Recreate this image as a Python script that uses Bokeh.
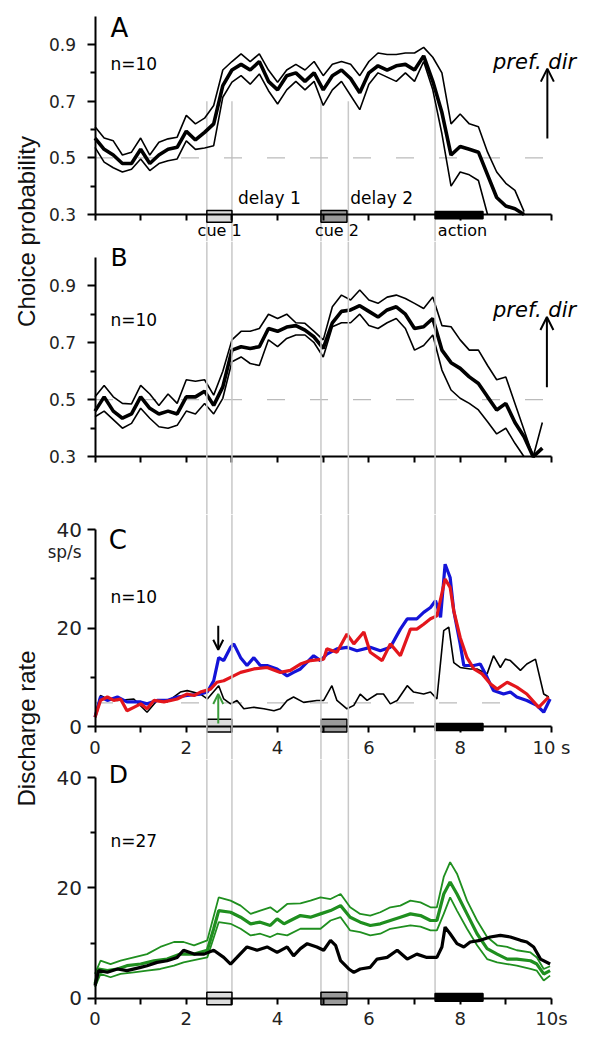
import numpy as np
from bokeh.plotting import figure
from bokeh.layouts import column, row
from bokeh.models import Range1d, LinearAxis, FixedTicker, Span, Arrow, OpenHead
from bokeh.core.properties import value
from bokeh.embed import file_html
from bokeh.resources import INLINE

nan = float("nan")
FONT = "DejaVu Sans"
LABEL_FONT = "Liberation Sans"

# ---------------- data ----------------
# panels A, B : choice probability, 0.2 s bins
t_ab = [round(0.2 * i, 1) for i in range(50)]
a_mean = [0.57, 0.53, 0.51, 0.48, 0.48, 0.53, 0.48, 0.51, 0.53, 0.537,
          0.594, 0.563, 0.59, 0.62, 0.755, 0.81, 0.83, 0.81, 0.84, 0.77,
          0.74, 0.79, 0.80, 0.77, 0.80, 0.74, 0.79, 0.81, 0.78, 0.73,
          0.80, 0.825, 0.81, 0.825, 0.83, 0.81, 0.86, 0.77, 0.66, 0.51,
          0.54, 0.53, 0.52, 0.44, 0.36, 0.33, 0.32, 0.30, nan, nan]
a_upper = [0.61, 0.57, 0.56, 0.51, 0.52, 0.57, 0.51, 0.555, 0.567, 0.573,
           0.65, 0.62, 0.64, 0.685, 0.81, 0.84, 0.867, 0.84, 0.867, 0.81,
           0.767, 0.81, 0.83, 0.81, 0.84, 0.79, 0.83, 0.84, 0.83, 0.79,
           0.84, 0.87, 0.865, 0.865, 0.87, 0.87, 0.89, 0.855, 0.80, 0.62,
           0.655, 0.62, 0.61, 0.52, 0.45, 0.41, 0.385, 0.31, nan, nan]
a_lower = [0.537, 0.485, 0.465, 0.45, 0.46, 0.496, 0.455, 0.48, 0.49, 0.496,
           0.56, 0.53, 0.535, 0.543, 0.714, 0.767, 0.79, 0.76, 0.796, 0.737,
           0.69, 0.74, 0.77, 0.74, 0.77, 0.685, 0.74, 0.77, 0.72, 0.67,
           0.76, 0.80, 0.785, 0.77, 0.80, 0.77, 0.84, 0.74, 0.585, 0.40,
           0.45, 0.44, 0.42, 0.30, nan, nan, nan, nan, nan, nan]

b_mean = [0.46, 0.51, 0.46, 0.435, 0.45, 0.51, 0.47, 0.45, 0.46, 0.45,
          0.51, 0.51, 0.53, 0.48, 0.545, 0.674, 0.686, 0.68, 0.686, 0.75,
          0.74, 0.755, 0.76, 0.744, 0.72, 0.68, 0.77, 0.81, 0.815, 0.83,
          0.81, 0.79, 0.815, 0.826, 0.80, 0.75, 0.756, 0.785, 0.674, 0.63,
          0.61, 0.58, 0.557, 0.51, 0.464, 0.487, 0.42, 0.37, 0.30, 0.33]
b_upper = [0.51, 0.55, 0.51, 0.487, 0.485, 0.55, 0.52, 0.48, 0.52, 0.487,
           0.57, 0.565, 0.57, 0.516, 0.60, 0.71, 0.74, 0.74, 0.75, 0.80,
           0.785, 0.80, 0.77, 0.768, 0.74, 0.71, 0.826, 0.867, 0.85, 0.885,
           0.85, 0.838, 0.86, 0.867, 0.855, 0.838, 0.82, 0.86, 0.76, 0.756,
           0.71, 0.674, 0.674, 0.62, 0.57, 0.58, 0.487, 0.394, 0.30, 0.42]
b_lower = [0.44, 0.46, 0.43, 0.40, 0.417, 0.47, 0.435, 0.405, 0.40, 0.41,
           0.46, 0.45, 0.487, 0.45, 0.505, 0.633, 0.65, 0.627, 0.62, 0.71,
           0.686, 0.715, 0.727, 0.727, 0.70, 0.65, 0.756, 0.77, 0.77, 0.80,
           0.76, 0.75, 0.77, 0.785, 0.75, 0.674, 0.69, 0.727, 0.604, 0.534,
           0.505, 0.487, 0.464, 0.423, 0.38, 0.40, 0.347, 0.30, nan, nan]

# panel C : discharge rate (sp/s)
c_blue_t = [0.0, 0.12, 0.27, 0.49, 0.70, 1.0, 1.14, 1.36, 1.58, 1.80, 2.02, 2.31, 2.46,
            2.6, 2.71, 2.82, 2.97, 3.04, 3.19, 3.33, 3.48, 3.62, 3.77, 3.99, 4.21, 4.35,
            4.5, 4.79, 4.94, 5.08, 5.30, 5.52, 5.74, 6.03, 6.25, 6.47, 6.69, 6.84, 7.05,
            7.2, 7.35, 7.46, 7.57, 7.67, 7.78, 7.86, 8.0, 8.08, 8.3, 8.44, 8.59, 8.73,
            8.95, 9.1, 9.24, 9.46, 9.68, 9.83, 9.97]
c_blue = [1.9, 6.0, 5.3, 6.0, 5.0, 5.0, 4.6, 5.3, 5.3, 6.0, 6.3, 6.6, 7.0,
          9.3, 14.0, 13.4, 16.1, 16.8, 14.0, 12.4, 14.0, 12.4, 12.4, 11.7, 10.3, 11.0,
          11.7, 14.4, 13.4, 14.7, 15.8, 16.1, 15.4, 16.1, 15.4, 16.1, 19.8, 21.9, 21.9,
          23.2, 24.2, 25.6, 22.2, 33.0, 30.3, 23.5, 16.8, 12.4, 12.4, 12.7, 10.0, 7.3,
          6.6, 7.0, 6.0, 5.3, 4.3, 2.9, 5.6]
c_red_t = [0.0, 0.12, 0.27, 0.41, 0.56, 0.70, 0.85, 1.0, 1.14, 1.29, 1.51, 1.66, 1.80,
           2.02, 2.17, 2.31, 2.53, 2.67, 2.82, 2.97, 3.19, 3.48, 3.77, 4.06, 4.28, 4.5,
           4.72, 5.01, 5.08, 5.30, 5.52, 5.67, 5.89, 6.03, 6.29, 6.47, 6.69, 6.91, 7.05,
           7.2, 7.35, 7.49, 7.67, 7.78, 7.86, 8.0, 8.15, 8.3, 8.48, 8.66, 8.81, 9.03,
           9.24, 9.46, 9.72, 9.94]
c_red = [1.9, 5.3, 6.0, 5.3, 5.6, 3.2, 3.9, 4.6, 3.6, 5.3, 5.0, 5.3, 5.6,
         6.6, 6.3, 7.0, 7.6, 9.0, 9.3, 10.0, 11.0, 11.7, 12.0, 11.0, 11.4, 12.7,
         13.4, 13.7, 15.8, 15.1, 18.8, 16.8, 19.2, 15.1, 13.4, 16.8, 14.4, 19.8, 19.8,
         20.8, 21.9, 22.5, 30.0, 28.3, 23.5, 18.1, 14.0, 11.7, 10.7, 8.7, 7.6, 9.0,
         8.0, 6.6, 3.9, 6.0]
c_black_t = [0.0, 0.12, 0.27, 0.49, 0.85, 1.14, 1.36, 1.58, 1.87, 2.02, 2.31, 2.46,
             2.71, 2.82, 2.97, 3.11, 3.26, 3.48, 3.70, 3.92, 4.06, 4.21, 4.35, 4.57,
             4.86, 5.01, 5.19, 5.30, 5.52, 5.67, 5.81, 5.96, 6.18, 6.32, 6.47, 6.62,
             6.84, 6.98, 7.2, 7.35, 7.49, 7.64, 7.75, 7.86, 8.0, 8.22, 8.37, 8.59,
             8.73, 8.88, 8.99, 9.1, 9.32, 9.46, 9.65, 9.83, 9.94]
c_black = [1.9, 6.3, 5.6, 5.3, 5.6, 2.9, 5.3, 5.0, 7.0, 7.3, 6.6, 5.6,
           8.3, 5.6, 4.6, 5.3, 3.6, 3.9, 3.6, 3.2, 3.6, 5.3, 6.0, 4.9,
           5.3, 5.3, 8.3, 5.3, 3.6, 4.3, 6.6, 5.3, 6.6, 6.6, 4.6, 5.3,
           8.3, 7.0, 6.6, 7.0, 5.6, 19.5, 20.2, 13.0, 12.0, 11.7, 11.7, 10.7,
           14.4, 12.0, 13.7, 13.4, 11.4, 12.7, 13.7, 6.6, 6.0]

# panel D : discharge rate (sp/s), n=27
d_mean_t = [0.0, 0.08, 0.27, 0.49, 0.70, 1.0, 1.29, 1.58, 1.87, 2.17,
            2.46, 2.6, 2.71, 2.97, 3.19, 3.41, 3.62, 3.84, 3.99, 4.14,
            4.28, 4.5, 4.72, 4.94, 5.16, 5.38, 5.59, 5.81, 6.03, 6.25,
            6.47, 6.69, 6.91, 7.13, 7.35, 7.49, 7.64, 7.78, 7.93, 8.15,
            8.37, 8.59, 8.81, 9.03, 9.24, 9.54, 9.68, 9.83, 9.97]
d_mean = [2.6, 5.3, 5.0, 5.3, 5.9, 6.2, 6.8, 7.1, 8.0, 8.0,
          8.7, 12.6, 15.9, 15.6, 14.7, 13.5, 13.8, 13.2, 14.4, 13.5,
          14.1, 15.0, 14.7, 15.3, 15.9, 16.8, 14.7, 13.8, 13.2, 13.5,
          14.1, 14.7, 15.3, 15.0, 14.1, 14.1, 18.9, 21.1, 18.9, 15.3,
          11.7, 9.0, 8.0, 7.1, 7.1, 6.8, 6.2, 4.4, 5.0]
d_band_t = [0.0, 0.12, 0.34, 0.56, 0.85, 1.14, 1.43, 1.73, 1.94, 2.17,
            2.46, 2.71, 2.97, 3.19, 3.41, 3.62, 3.84, 3.99, 4.21, 4.5,
            4.72, 4.94, 5.16, 5.38, 5.59, 5.81, 6.03, 6.25, 6.47, 6.69,
            6.91, 7.13, 7.35, 7.49, 7.64, 7.78, 7.93, 8.15, 8.37, 8.59,
            8.81, 9.03, 9.24, 9.54, 9.68, 9.83, 9.97]
d_upper = [4.4, 6.8, 6.2, 6.8, 7.4, 8.0, 9.3, 10.2, 10.2, 9.6,
           10.5, 18.3, 17.7, 16.8, 15.3, 15.9, 16.5, 15.6, 17.1, 17.2,
           17.7, 18.3, 18.0, 18.9, 16.5, 15.3, 15.0, 15.6, 16.5, 16.8,
           17.7, 17.4, 16.5, 16.5, 22.0, 24.7, 22.6, 17.7, 14.1, 11.1,
           9.6, 9.3, 8.7, 8.3, 7.4, 5.3, 5.8]
d_lower = [2.0, 4.4, 3.8, 4.4, 4.7, 5.0, 5.3, 5.9, 6.5, 6.9,
           7.4, 13.8, 13.5, 12.6, 11.4, 11.7, 11.1, 11.7, 11.4, 12.6,
           12.6, 12.6, 14.1, 14.7, 12.3, 12.0, 11.4, 11.7, 12.6, 12.9,
           13.2, 13.0, 12.3, 12.3, 15.3, 18.3, 15.9, 12.6, 9.6, 7.1,
           6.5, 6.2, 5.9, 5.3, 5.0, 3.2, 4.1]
d_black_t = [0.0, 0.08, 0.27, 0.49, 0.70, 1.0, 1.14, 1.36, 1.58, 1.80, 1.94,
             2.17, 2.39, 2.6, 2.82, 2.97, 3.11, 3.33, 3.55, 3.77, 3.99, 4.21,
             4.35, 4.5, 4.65, 4.86, 5.01, 5.16, 5.27, 5.38, 5.56, 5.67, 5.81,
             6.03, 6.18, 6.4, 6.62, 6.84, 7.05, 7.27, 7.49, 7.6, 7.67, 7.78,
             7.93, 8.08, 8.22, 8.44, 8.66, 8.88, 9.1, 9.32, 9.46, 9.61, 9.76, 9.97]
d_black = [2.3, 5.0, 4.7, 5.3, 5.0, 5.6, 5.9, 6.5, 6.8, 7.4, 8.7,
           8.0, 8.0, 8.7, 7.4, 6.2, 7.4, 9.3, 8.7, 9.3, 8.3, 9.3,
           7.7, 9.0, 9.9, 9.3, 8.7, 10.5, 9.6, 6.8, 5.3, 4.7, 5.3,
           5.6, 7.1, 7.4, 8.7, 7.1, 8.0, 7.4, 7.4, 9.3, 12.9, 11.7,
           9.9, 9.3, 10.2, 10.5, 11.1, 11.4, 11.1, 10.5, 10.2, 9.3, 7.1, 6.2]

# task events (s)
event_times = [2.45, 3.0, 4.95, 5.55, 7.45]
box_left = [2.45, 4.95, 7.45]
box_right = [3.0, 5.52, 8.5]
box_fill = ["#dcdcdc", "#9a9a9a", "black"]
box_labels = ["cue 1", "cue 2", "action"]
delay_labels = ["delay 1", "delay 2"]

# ---------------- styling helpers ----------------
XR = (-1.019, 10.68)
GREY = "#c8c8c8"
DASH = "#bbbbbb"
BLUE = "#1414d8"
RED = "#e3161c"
GREEN = "#1f8f1f"


def panel(height, y0, y1):
    p = figure(width=540, height=height, x_range=Range1d(*XR), y_range=Range1d(y0, y1),
               output_backend="svg", toolbar_location=None,
               x_axis_location=None, y_axis_location=None,
               min_border_left=0, min_border_right=6,
               min_border_top=0, min_border_bottom=0)
    p.outline_line_color = None
    p.background_fill_color = "white"
    p.border_fill_color = "white"
    p.grid.visible = False
    return p


def style_axis(ax, fs):
    ax.axis_line_width = 2
    ax.axis_line_color = "black"
    ax.major_tick_line_width = 2
    ax.minor_tick_line_width = 2
    ax.major_tick_line_color = "black"
    ax.minor_tick_line_color = "black"
    ax.major_tick_in = 0
    ax.minor_tick_in = 0
    ax.major_label_text_font = FONT
    ax.major_label_text_font_size = fs
    ax.major_label_text_color = "#222222"


def add_y(p, ticks, minor, bounds, fs, standoff):
    ax = LinearAxis(ticker=FixedTicker(ticks=ticks, minor_ticks=minor), bounds=bounds,
                    fixed_location=0)
    style_axis(ax, fs)
    ax.major_tick_out = 8
    ax.minor_tick_out = 5
    ax.major_label_standoff = standoff
    p.add_layout(ax, "left")


def add_x(p, loc, labelled, last_label):
    if labelled:
        tk = FixedTicker(ticks=[0, 2, 4, 6, 8, 10], minor_ticks=[1, 3, 5, 7, 9])
    else:
        tk = FixedTicker(ticks=[], minor_ticks=list(range(0, 11)))
    ax = LinearAxis(ticker=tk, bounds=(0, 10), fixed_location=loc)
    style_axis(ax, "18px")
    ax.major_tick_out = 6
    ax.minor_tick_out = 6
    ax.major_label_standoff = 4
    if labelled:
        ax.major_label_overrides = {10: last_label}
    p.add_layout(ax, "below")


def txt(p, x, y, s, size, align="left", style="normal", color="black"):
    p.text(x=[x], y=[y], text=[s], text_font=value(FONT), text_font_size=size,
           text_align=align, text_baseline="middle", text_font_style=style,
           text_color=color)


def boxes(p, bottoms, tops):
    p.quad(left=box_left, right=box_right, bottom=bottoms, top=tops,
           fill_color=box_fill, line_color="black", line_width=1.5)


# ---------------- panel A ----------------
A0, A1 = 0.2047, 1.0554
pA = panel(241, A0, A1)
pA.segment(x0=event_times, y0=[0.7] * 5, x1=event_times, y1=[A0] * 5,
           line_color=GREY, line_width=1.5)
pA.line([0, 9.9], [0.5, 0.5], line_color=DASH, line_width=1.2, line_dash="18 25")
pA.line(t_ab, a_upper, line_color="black", line_width=1.6)
pA.line(t_ab, a_lower, line_color="black", line_width=1.6)
pA.line(t_ab, a_mean, line_color="black", line_width=3.6)
add_y(pA, [0.3, 0.5, 0.7, 0.9], [0.4, 0.6, 0.8], (0.3, 1.0), "17px", 11)
add_x(pA, 0.3, False, "")
boxes(pA, [0.273, 0.273, 0.285], [0.314, 0.314, 0.311])
txt(pA, 0.34, 0.96, "A", "26px")
txt(pA, 0.34, 0.83, "n=10", "17px")
txt(pA, 9.63, 0.837, "pref. dir", "21px", align="center", style="italic")
pA.add_layout(Arrow(end=OpenHead(size=13, line_width=2), x_start=9.91, y_start=0.568,
                    x_end=9.91, y_end=0.815, line_width=2))
for xc, s in zip([3.82, 6.28], delay_labels):
    txt(pA, xc, 0.357, s, "17px", align="center")
for xc, s in zip([2.73, 5.3, 8.05], box_labels):
    txt(pA, xc, 0.245, s, "16px", align="center")

# ---------------- panel B ----------------
pB = panel(273, 0.0972, 1.0551)
for tv in event_times:
    pB.add_layout(Span(location=tv, dimension="height", line_color=GREY, line_width=1.5))
pB.line([0, 9.9], [0.5, 0.5], line_color=DASH, line_width=1.2, line_dash="18 25")
pB.line(t_ab, b_upper, line_color="black", line_width=1.6)
pB.line(t_ab, b_lower, line_color="black", line_width=1.6)
pB.line(t_ab, b_mean, line_color="black", line_width=3.6)
add_y(pB, [0.3, 0.5, 0.7, 0.9], [0.4, 0.6, 0.8], (0.3, 1.0), "17px", 11)
add_x(pB, 0.3, False, "")
txt(pB, 0.34, 1.0, "B", "25px")
txt(pB, 0.34, 0.778, "n=10", "17px")
txt(pB, 9.63, 0.813, "pref. dir", "21px", align="center", style="italic")
pB.add_layout(Arrow(end=OpenHead(size=13, line_width=2), x_start=9.9, y_start=0.544,
                    x_end=9.9, y_end=0.79, line_width=2))

# ---------------- panel C ----------------
C0, C1 = -6.71, 43.11
pC = panel(245, C0, C1)
for tv in event_times:
    pC.add_layout(Span(location=tv, dimension="height", line_color=GREY, line_width=1.5))
pC.line([0, 9.0], [4.8, 4.8], line_color=DASH, line_width=1.2, line_dash="18 25")
pC.line(c_black_t, c_black, line_color="black", line_width=1.6)
pC.line(c_blue_t, c_blue, line_color=BLUE, line_width=3.2)
pC.line(c_red_t, c_red, line_color=RED, line_width=3.2)
add_y(pC, [0, 20, 40], [10, 30], (0, 40), "20px", 5)
add_x(pC, 0, True, "10 s")
boxes(pC, [-1.1, -1.1, -0.8], [1.5, 1.5, 0.6])
txt(pC, 0.3, 38.0, "C", "26px")
txt(pC, 0.34, 26.3, "n=10", "17px")
txt(pC, -0.668, 35.4, "sp/s", "17px", align="center", color="#222222")
pC.add_layout(Arrow(end=OpenHead(size=10, line_width=2), x_start=2.7, y_start=20.5,
                    x_end=2.7, y_end=15.6, line_width=2))
pC.add_layout(Arrow(end=OpenHead(size=10, line_width=2, line_color="#3c9c3c"),
                    x_start=2.7, y_start=0.6, x_end=2.7, y_end=6.6,
                    line_width=2, line_color="#3c9c3c"))

# ---------------- panel D ----------------
D0, D1 = -8.04, 43.32
pD = panel(283, D0, D1)
pD.segment(x0=event_times, y0=[D1] * 5, x1=event_times, y1=[0] * 5,
           line_color=GREY, line_width=1.5)
pD.line(d_band_t, d_upper, line_color=GREEN, line_width=1.8)
pD.line(d_band_t, d_lower, line_color=GREEN, line_width=1.8)
pD.line(d_mean_t, d_mean, line_color=GREEN, line_width=3.2)
pD.line(d_black_t, d_black, line_color="black", line_width=3.2)
add_y(pD, [0, 20, 40], [10, 30], (0, 40), "20px", 5)
add_x(pD, 0, True, "10s")
boxes(pD, [-1.2, -1.2, -0.55], [1.1, 1.1, 0.85])
txt(pD, 0.3, 40.6, "D", "25px")
txt(pD, 0.34, 28.6, "n=27", "17px")

# ---------------- left label strip ----------------
strip = figure(width=48, height=1042, x_range=Range1d(0, 48), y_range=Range1d(0, 1042),
               output_backend="svg", toolbar_location=None,
               x_axis_location=None, y_axis_location=None,
               min_border_left=0, min_border_right=0, min_border_top=0, min_border_bottom=0)
strip.outline_line_color = None
strip.grid.visible = False
strip.text(x=[26, 26], y=[811, 314], text=["Choice probability", "Discharge rate"],
           text_font=value(LABEL_FONT), text_font_size="24px", angle=np.pi / 2,
           text_align="center", text_baseline="middle", text_color="#111111")

layout = row(strip, column(pA, pB, pC, pD))
open("out.html", "w").write(file_html(layout, INLINE))
